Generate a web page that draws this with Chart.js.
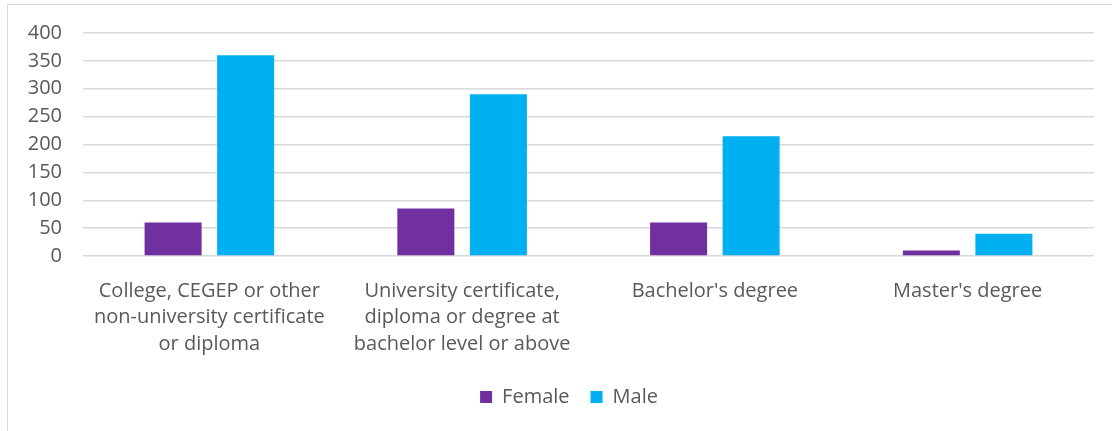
<!DOCTYPE html>
<html>
<head>
<meta charset="utf-8">
<script src="https://cdn.jsdelivr.net/npm/chart.js@4.4.1/dist/chart.umd.min.js"></script>
<style>
    body { margin: 0; background: #fff; overflow: hidden; }
    .frame { position: absolute; left: 7px; top: 4px; width: 1200px; height: 500px; border: 1px solid #d9d9d9; }
    .wrap { position: absolute; left: 0; top: 0; width: 1112px; height: 431px; }
</style>
</head>
<body>
<div class="frame"></div>
<div class="wrap"><canvas id="chart" width="1112" height="431"></canvas></div>
<script>
const categories = [
    ["College, CEGEP or other", "non-university certificate", "or diploma"],
    ["University certificate,", "diploma or degree at", "bachelor level or above"],
    "Bachelor's degree",
    "Master's degree"
];
const femaleValues = [60, 85, 60, 10];
const maleValues = [360, 290, 215, 40];
const yTicks = [0, 50, 100, 150, 200, 250, 300, 350, 400];

const textColor = "#595959";

Chart.defaults.font.family = "'Open Sans', sans-serif";
Chart.defaults.font.size = 20;
Chart.defaults.color = textColor;

// legend in the original sits a bit right of centre
const legendShift = {
    id: "legendShift",
    afterLayout(chart) {
        chart.legend.left += 22;
        chart.legend.right += 22;
    }
};

new Chart(document.getElementById("chart").getContext("2d"), {
    type: "bar",
    data: {
        labels: categories,
        datasets: [
            { label: "Female", data: femaleValues, backgroundColor: "#7030a0" },
            { label: "Male", data: maleValues, backgroundColor: "#00b0f0" }
        ]
    },
    options: {
        responsive: false,
        animation: false,
        categoryPercentage: 0.574,
        barPercentage: 0.786,
        layout: { padding: { top: 33, right: 18, bottom: 14, left: 0 } },
        plugins: {
            legend: {
                position: "bottom",
                labels: { boxWidth: 12, boxHeight: 12, padding: 21 }
            },
            tooltip: { enabled: false }
        },
        scales: {
            x: {
                grid: { display: false },
                border: { display: false },
                ticks: { padding: 14, maxRotation: 0, autoSkip: false, font: { lineHeight: 1.325 } },
                afterFit: function(scale) { scale.height = 110; }
            },
            y: {
                min: 0,
                max: 400,
                afterBuildTicks: function(scale) { scale.ticks = yTicks.map(v => ({ value: v })); },
                grid: { color: "#d9d9d9", lineWidth: 1.5, drawTicks: false },
                border: { display: false },
                ticks: { padding: 21 },
                afterFit: function(scale) { scale.width = 83; }
            }
        }
    },
    plugins: [legendShift]
});
</script>
</body>
</html>
